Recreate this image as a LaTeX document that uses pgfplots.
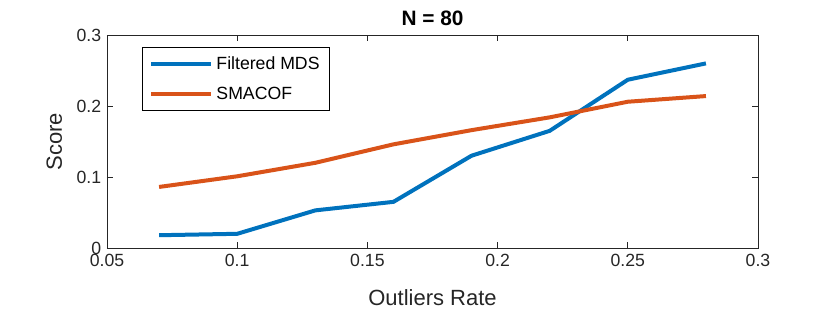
\documentclass[border=0pt]{standalone}
\usepackage{pgfplots}
\pgfplotsset{compat=1.18}
\usepackage{fontspec}
\setmainfont{Liberation Sans}
\definecolor{mblue}{RGB}{0,114,189}
\definecolor{morange}{RGB}{217,83,25}
\definecolor{mgray}{RGB}{38,38,38}
\begin{document}
\begin{tikzpicture}
\begin{axis}[
  scale only axis,
  width=390.6pt, height=127.8pt,
  xmin=0.05, xmax=0.3, ymin=0, ymax=0.3,
  xtick={0.05,0.1,0.15,0.2,0.25,0.3},
  ytick={0,0.1,0.2,0.3},
  xticklabels={0.05,0.1,0.15,0.2,0.25,0.3},
  yticklabels={0,0.1,0.2,0.3},
  tick align=inside,
  major tick length=3.5pt,
  tick style={mgray, line width=0.4pt},
  axis line style={mgray, line width=0.4pt},
  ticklabel style={font=\fontsize{10.6}{12}\selectfont, text=mgray},
  xlabel={Outliers Rate}, ylabel={Score},
  label style={font=\fontsize{13.2}{15}\selectfont, text=mgray},
  xlabel style={at={(axis description cs:0.5,-0.235)}, anchor=center},
  ylabel style={at={(axis description cs:-0.081,0.5)}, anchor=center},
  title={\textbf{N = 80}},
  title style={font=\fontsize{12.5}{14}\selectfont, at={(axis description cs:0.5,1.08)}, anchor=center, yshift=-6pt},
  legend style={at={(axis description cs:0.054,0.944)}, anchor=north west,
    font=\fontsize{10.6}{12}\selectfont, draw=black, line width=0.4pt,
    inner xsep=4pt, inner ysep=3.5pt, row sep=5pt},
  legend cell align=left,
  legend image code/.code={\draw[#1, line width=2.4pt] (0pt,0pt) -- (36pt,0pt);},
]
\addplot[color=mblue, line width=2.4pt] coordinates {
(0.07,0.018) (0.1,0.020) (0.13,0.053) (0.16,0.065) (0.19,0.130) (0.22,0.165) (0.25,0.237) (0.28,0.260)};
\addlegendentry{Filtered MDS}
\addplot[color=morange, line width=2.4pt] coordinates {
(0.07,0.086) (0.1,0.101) (0.13,0.120) (0.16,0.146) (0.19,0.166) (0.22,0.184) (0.25,0.206) (0.28,0.214)};
\addlegendentry{SMACOF}
\end{axis}
\pgfresetboundingbox
\path[use as bounding box] ([xshift=-64.2pt,yshift=-39pt]current axis.south west) rectangle ([xshift=43.2pt,yshift=21pt]current axis.north east);
\end{tikzpicture}
\end{document}
